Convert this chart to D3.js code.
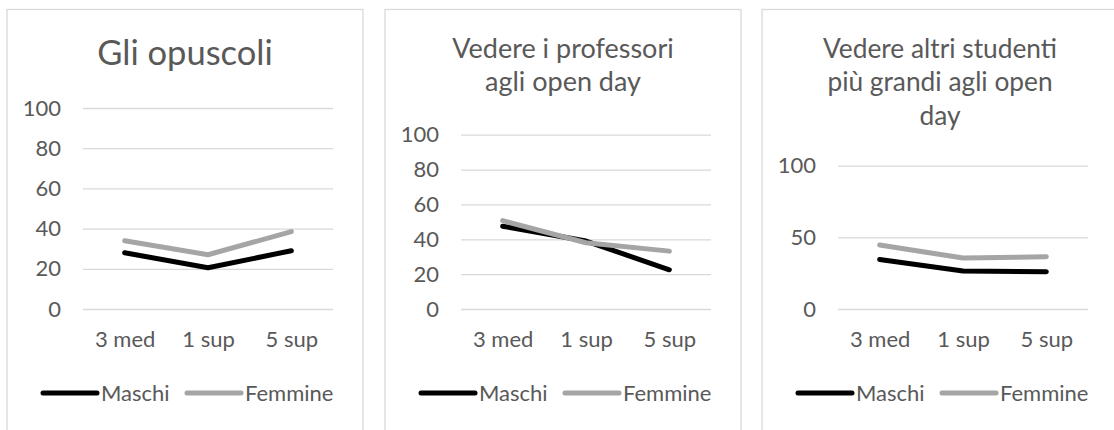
<!DOCTYPE html>
<html>
<head>
<meta charset="utf-8">
<script src="https://cdn.jsdelivr.net/npm/d3@7/dist/d3.min.js"></script>
<style>
  html, body { margin: 0; padding: 0; background: #ffffff; }
  svg { display: block; }
  text { font-family: Lato, "Open Sans", sans-serif; fill: #595959; }
</style>
</head>
<body>
<svg id="chart" width="1114" height="430"></svg>
<script>
// Categories on the x axis (school year)
const categories = ["3 med", "1 sup", "5 sup"];
const seriesNames = ["Maschi", "Femmine"];

// Chart 1: Gli opuscoli
const opuscoliTitle = ["Gli opuscoli"];
const opuscoliMaschi = [28, 20.5, 29];
const opuscoliFemmine = [34, 27, 38.5];
const opuscoliTicks = [0, 20, 40, 60, 80, 100];

// Chart 2: Vedere i professori agli open day
const professoriTitle = ["Vedere i professori", "agli open day"];
const professoriMaschi = [47.5, 39, 22.5];
const professoriFemmine = [50.7, 38, 33.2];
const professoriTicks = [0, 20, 40, 60, 80, 100];

// Chart 3: Vedere altri studenti più grandi agli open day
const studentiTitle = ["Vedere altri studenti", "più grandi agli open", "day"];
const studentiMaschi = [34.6, 26.5, 26];
const studentiFemmine = [44.6, 35.6, 36.5];
const studentiTicks = [0, 50, 100];

const seriesColors = ["#000000", "#a5a5a5"];

const panels = [
  { left: 7,   title: opuscoliTitle,   titleSize: 34.5, series: [opuscoliMaschi, opuscoliFemmine],     ticks: opuscoliTicks,   plotTop: 108 },
  { left: 385, title: professoriTitle, titleSize: 27,   series: [professoriMaschi, professoriFemmine], ticks: professoriTicks, plotTop: 134.7 },
  { left: 762, title: studentiTitle,   titleSize: 26.3, series: [studentiMaschi, studentiFemmine],     ticks: studentiTicks,   plotTop: 165.7 }
];

const panelWidth = 356;
const panelHeight = 440;
const plotLeft = 76, plotRight = 326, plotBottom = 309;
const labelSize = 22;

const svg = d3.select("#chart");

panels.forEach(p => {
  const g = svg.append("g").attr("transform", `translate(${p.left},0)`);

  // chart area frame
  g.append("rect")
    .attr("x", 0).attr("y", 9.5)
    .attr("width", panelWidth).attr("height", panelHeight)
    .attr("fill", "#ffffff")
    .attr("stroke", "#d9d9d9").attr("stroke-width", 1.3);

  // title
  const titleBaselines = p.title.length === 1 ? [65] : p.title.map((_, i) => 57.5 + i * 33.5);
  g.selectAll("text.title").data(p.title).join("text")
    .attr("class", "title")
    .attr("x", 178)
    .attr("y", (d, i) => titleBaselines[i])
    .attr("text-anchor", "middle")
    .style("font-size", p.titleSize + "px")
    .text(d => d);

  const x = d3.scalePoint().domain(categories).range([plotLeft, plotRight]).padding(0.5);
  const y = d3.scaleLinear().domain([0, 100]).range([plotBottom, p.plotTop]);

  // y axis with gridlines
  const yAxis = g.append("g")
    .attr("transform", `translate(${plotLeft},0)`)
    .call(d3.axisLeft(y).tickValues(p.ticks).tickSize(-(plotRight - plotLeft)).tickPadding(22).tickFormat(d3.format("d")));
  yAxis.select(".domain").remove();
  yAxis.selectAll(".tick line").attr("stroke", "#d9d9d9").attr("stroke-width", 1.3);
  yAxis.selectAll(".tick text")
    .style("font-size", labelSize + "px")
    .style("font-family", "Lato, 'Open Sans', sans-serif")
    .attr("fill", "#595959");

  // x axis labels
  const xAxis = g.append("g")
    .attr("transform", `translate(0,${plotBottom})`)
    .call(d3.axisBottom(x).tickSize(0));
  xAxis.select(".domain").remove();
  xAxis.selectAll(".tick text")
    .attr("y", 38).attr("dy", null)
    .style("font-size", labelSize + "px")
    .style("font-family", "Lato, 'Open Sans', sans-serif")
    .attr("fill", "#595959");

  // series lines
  const line = d3.line().x((d, i) => x(categories[i])).y(d => y(d));
  p.series.forEach((vals, si) => {
    g.append("path")
      .datum(vals)
      .attr("d", line)
      .attr("fill", "none")
      .attr("stroke", seriesColors[si])
      .attr("stroke-width", 5)
      .attr("stroke-linecap", "round")
      .attr("stroke-linejoin", "round");
  });

  // legend
  const legendItems = [{ x: 36, name: seriesNames[0] }, { x: 180, name: seriesNames[1] }];
  legendItems.forEach((item, si) => {
    g.append("line")
      .attr("x1", item.x).attr("x2", item.x + 54)
      .attr("y1", 393).attr("y2", 393)
      .attr("stroke", seriesColors[si])
      .attr("stroke-width", 5)
      .attr("stroke-linecap", "round");
    g.append("text")
      .attr("x", item.x + 58).attr("y", 393)
      .attr("dy", "0.35em")
      .style("font-size", labelSize + "px")
      .text(item.name);
  });
});
</script>
</body>
</html>
